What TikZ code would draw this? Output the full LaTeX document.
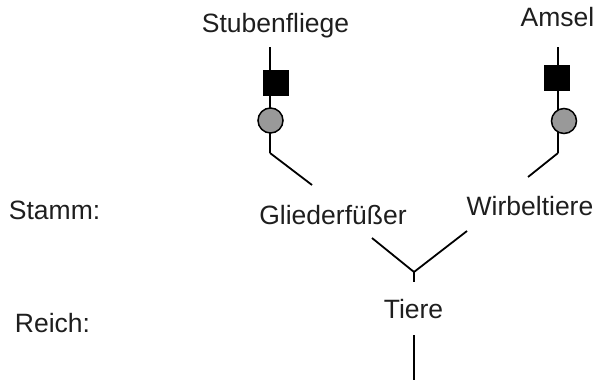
\documentclass[tikz,border=0pt]{standalone}
\usepackage{fontspec}
\setmainfont{Liberation Sans}
\usepackage{tikz}
\definecolor{knotgray}{RGB}{153,153,153}
\definecolor{textgray}{RGB}{30,30,30}

\begin{document}
\begin{tikzpicture}[x=1pt,y=-1pt,line width=1.8pt,
  label/.style={font=\fontsize{26.5}{30}\selectfont,text=textgray,inner sep=0pt,anchor=base},
  merkmal/.style={draw,fill=black,minimum size=25pt,inner sep=0pt,line width=1pt},
  knoten/.style={draw,fill=knotgray,circle,minimum size=25pt,inner sep=0pt,line width=1.5pt}]
  \useasboundingbox (0,0) rectangle (605,380);

  \node [label] (fliege) at (275.5,32) {Stubenfliege};
  \node [label] (amsel) at (557.5,27) {Amsel};
  \node [label,anchor=base west] (stamm) at (8,219) {Stamm:};
  \node [label,anchor=base west] (reich) at (14,332) {Reich:};
  \node [label] (glieder) at (333,224) {Gliederfüßer};
  \node [label] (wirbel) at (530,215) {Wirbeltiere};
  \node [label] (tiere) at (413.5,318) {Tiere};

  % linker Ast
  \coordinate (f0) at (270,47);
  \coordinate (f1) at (270,153);
  \coordinate (f2) at (312,185);
  \path[-] (f0) edge (f1);
  \path[-] (f1) edge (f2);
  \node [merkmal] (fq) at (275.5,83) {};
  \node [knoten] (fk) at (270.5,120.5) {};

  % rechter Ast
  \coordinate (a0) at (558,47);
  \coordinate (a1) at (558,153);
  \coordinate (a2) at (528,177);
  \path[-] (a0) edge (a1);
  \path[-] (a1) edge (a2);
  \node [merkmal] (aq) at (556.5,78) {};
  \node [knoten] (ak) at (564,121) {};

  % Gabel
  \coordinate (g1) at (372,238);
  \coordinate (g2) at (467,231);
  \coordinate (gm) at (414,272);
  \coordinate (gu) at (414,282);
  \path[-] (g1) edge (gm);
  \path[-] (g2) edge (gm);
  \path[-] (gm) edge (gu);

  \coordinate (t0) at (414,335);
  \coordinate (t1) at (414,380);
  \path[-] (t0) edge (t1);
\end{tikzpicture}
\end{document}
